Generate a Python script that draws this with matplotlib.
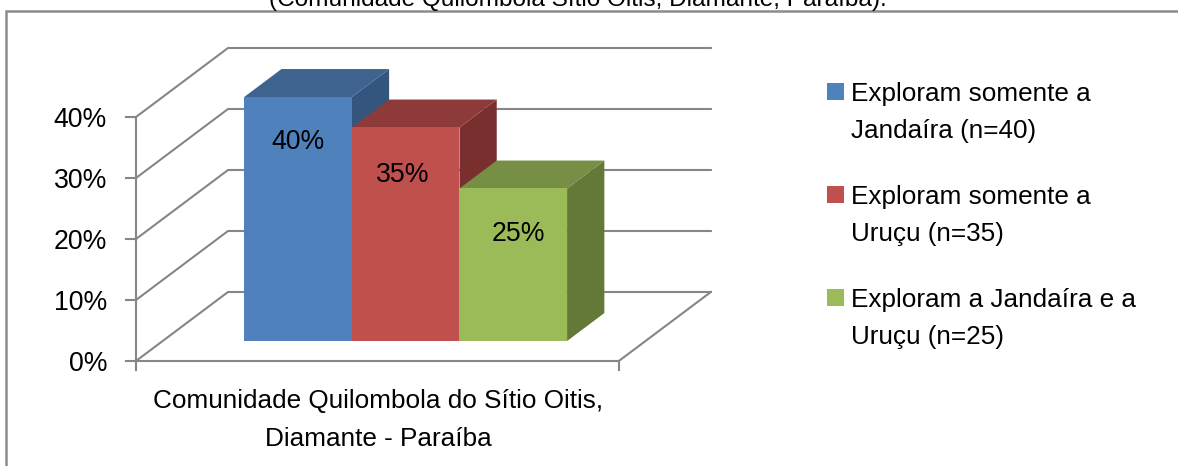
import matplotlib
matplotlib.use('Agg')
import matplotlib.pyplot as plt
from matplotlib.patches import Polygon, Rectangle

plt.rcParams['font.family'] = ['Liberation Sans', 'DejaVu Sans']

title = '(Comunidade Quilombola Sítio Oitis, Diamante, Paraíba).'
category = 'Comunidade Quilombola do Sítio Oitis,\nDiamante - Paraíba'
series = ['Exploram somente a\nJandaíra (n=40)',
          'Exploram somente a\nUruçu (n=35)',
          'Exploram a Jandaíra e a\nUruçu (n=25)']
values = [40, 35, 25]
value_labels = ['40%', '35%', '25%']
yticks = [0, 10, 20, 30, 40]
ytick_labels = ['0%', '10%', '20%', '30%', '40%']

front_colors = ['#4F81BD', '#C0504D', '#9BBB59']
top_colors = ['#3E638F', '#8F3A3A', '#778F45']
side_colors = ['#33557E', '#7A2F2F', '#647837']
grid_color = '#868686'

W, H = 1178, 466
# picture size of one unit on each axis
PX_X = 107.3
PX_Y = 6.1
X0, Y0 = 136, 361
X_MAX = 4.5
GAP = 0.76
BAR_W = 1.003
# oblique offset of the back wall, in data units
DX = 92 / PX_X
DY = 69 / PX_Y
D_FRONT, D_BACK = 0.29, 0.695
FS = 18.8
FS_NUM = 19.2
LW = 1.5
LINE_SP = 1.7


def proj(x, v, d=0.0):
    return x + d * DX, v + d * DY


fig = plt.figure(figsize=(W / 100, H / 100), dpi=100)
ax = fig.add_axes([0, 0, 1, 1])
ax.set_xlim(-X0 / PX_X, (W - X0) / PX_X)
ax.set_ylim(-(H - Y0) / PX_Y, Y0 / PX_Y)
ax.axis('off')

# chart frame
ax.plot(*zip(*[(-130 / PX_X, -200 / PX_Y), (-130 / PX_X, 350 / PX_Y), (1100 / PX_X, 350 / PX_Y)]),
        color='#8C8C8C', lw=1.8, zorder=1, solid_joinstyle='miter')

# back wall gridlines
for v in yticks:
    pts = [proj(0, v), proj(0, v, 1), proj(X_MAX, v, 1)]
    ax.plot(*zip(*pts), color=grid_color, lw=LW, zorder=2)
    ax.plot([-10 / PX_X, 0], [v, v], color=grid_color, lw=LW, zorder=2)
    ax.text(-29 / PX_X, v - 0.5, ytick_labels[yticks.index(v)], ha='right', va='center', fontsize=FS_NUM)

# axes lines and floor
ax.plot([0, 0], [-9 / PX_Y, yticks[-1]], color=grid_color, lw=LW, zorder=2)
ax.plot(*zip(*[proj(0, 0), proj(X_MAX, 0), proj(X_MAX, 0, 1)]), color=grid_color, lw=LW, zorder=2)
ax.plot([X_MAX, X_MAX], [-9 / PX_Y, 0], color=grid_color, lw=LW, zorder=2)

# 3d bars
label_dx = [0, -3, 5]
label_dy = [1, 4, 2]
for i, v in enumerate(values):
    x0 = GAP + i * BAR_W
    x1 = x0 + BAR_W
    front = [proj(x0, 0, D_FRONT), proj(x1, 0, D_FRONT), proj(x1, v, D_FRONT), proj(x0, v, D_FRONT)]
    top = [proj(x0, v, D_FRONT), proj(x1, v, D_FRONT), proj(x1, v, D_BACK), proj(x0, v, D_BACK)]
    side = [proj(x1, 0, D_FRONT), proj(x1, 0, D_BACK), proj(x1, v, D_BACK), proj(x1, v, D_FRONT)]
    ax.add_patch(Polygon(side, facecolor=side_colors[i], edgecolor='none', zorder=3 + i))
    ax.add_patch(Polygon(top, facecolor=top_colors[i], edgecolor='none', zorder=3 + i))
    ax.add_patch(Polygon(front, facecolor=front_colors[i], edgecolor='none', zorder=3 + i))
    lx, ly = proj(x0 + 0.5 + label_dx[i] / PX_X, v - 7.2 - label_dy[i] / PX_Y, D_FRONT)
    ax.text(lx, ly, value_labels[i], ha='center', va='center', fontsize=FS_NUM, zorder=10)

# category label and clipped title
ax.text(proj(2.25, 0)[0] + 1 / PX_X, -59 / PX_Y, category, ha='center', va='center',
        fontsize=FS, linespacing=LINE_SP)
fig.text(578 / W, 1 - 6 / H, title, ha='center', va='baseline', fontsize=17.6)

# legend
for i, label in enumerate(series):
    top_px = 83 + 103 * i
    fig.add_artist(Rectangle((827 / W, 1 - (top_px + 17) / H), 17 / W, 17 / H,
                             transform=fig.transFigure, facecolor=front_colors[i], edgecolor='none'))
    fig.text(851 / W, 1 - (top_px + 29.5) / H, label, ha='left', va='center',
             fontsize=FS, linespacing=LINE_SP)

fig.savefig('out.png', dpi=100)
